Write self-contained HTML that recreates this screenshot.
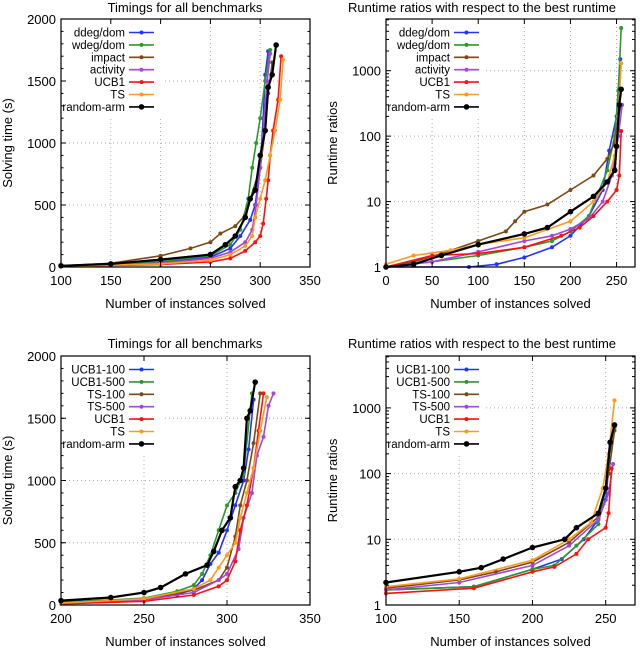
<!DOCTYPE html>
<html><head><meta charset="utf-8"><style>
body{margin:0;background:#fff}
svg{display:block;font-family:"Liberation Sans","DejaVu Sans",sans-serif}
</style></head><body>
<svg id="s" width="640" height="648" viewBox="0 0 640 648" xmlns="http://www.w3.org/2000/svg"></svg>
<script>
// ---- data ----
const colors=['#2233ff','#2a9a2a','#7b4a16','#a445e0','#ff1010','#ff9a1a','#000000'];
const namesTop=['ddeg/dom','wdeg/dom','impact','activity','UCB1','TS','random-arm'];
const namesBot=['UCB1-100','UCB1-500','TS-100','TS-500','UCB1','TS','random-arm'];
const xTicks1=[100,150,200,250,300,350];
const yTicks1=[0,500,1000,1500,2000];
const xTicks2=[0,50,100,150,200,250];
const yTicks2=[1,10,100,1000];
const xTicks3=[200,250,300,350];
const xTicks4=[100,150,200,250];
const p1=[
[[100,10],[150,20],[200,40],[250,80],[270,150],[280,250],[290,380],[295,500],[300,800],[303,1200],[305,1550],[308,1740]],
[[100,10],[200,45],[250,90],[270,180],[280,300],[288,550],[292,800],[296,1000],[300,1200],[305,1500],[310,1750]],
[[100,10],[150,30],[200,90],[230,150],[250,200],[260,270],[275,330],[285,420],[290,550],[300,800],[305,1100],[308,1400],[312,1650]],
[[100,8],[200,30],[250,70],[270,120],[285,200],[292,300],[296,500],[300,800],[304,1200],[307,1500],[310,1720]],
[[100,5],[200,20],[250,40],[270,70],[285,130],[295,200],[300,250],[303,350],[306,550],[308,700],[310,900],[313,1100],[318,1350],[321,1700]],
[[100,5],[200,25],[250,55],[270,100],[285,170],[292,250],[295,400],[300,550],[305,700],[310,900],[315,1100],[320,1350],[323,1670]],
[[100,10],[150,25],[200,60],[250,100],[265,180],[275,250],[285,400],[290,550],[295,620],[300,900],[305,1100],[308,1450],[312,1550],[316,1790]]];
const p2=[
[[0,1],[90,1],[120,1.1],[150,1.4],[180,2],[200,3],[220,6],[235,15],[242,60],[250,200],[254,1500]],
[[0,1],[50,1.2],[100,1.5],[150,2],[180,2.5],[200,3.5],[220,6],[240,30],[248,100],[252,500],[255,4500]],
[[0,1],[30,1.2],[60,1.6],[100,2.5],[130,3.5],[140,5],[150,7],[175,9],[200,15],[225,25],[240,45],[248,80],[252,200],[255,300]],
[[0,1],[50,1.2],[100,1.7],[150,2.5],[180,3],[200,3.8],[220,5.5],[235,10],[245,25],[252,100],[256,300]],
[[0,1],[50,1.5],[100,1.6],[150,2],[190,3],[210,4],[225,6],[240,10],[250,15],[253,25],[255,120]],
[[0,1.1],[30,1.5],[70,1.8],[100,2.2],[150,2.8],[200,5],[225,10],[240,20],[248,50],[252,200],[255,1300]],
[[0,1],[30,1.1],[60,1.5],[100,2.2],[150,3.2],[175,4],[200,7],[225,12],[240,20],[248,30],[250,70],[253,300],[255,520]]];
const p3=[
[[200,25],[250,50],[270,80],[280,130],[285,200],[290,330],[295,420],[300,600],[305,800],[310,1000],[313,1250],[316,1650]],
[[200,20],[250,55],[270,110],[280,160],[285,250],[290,400],[295,600],[300,800],[305,900],[310,1050],[315,1700]],
[[200,15],[250,45],[280,120],[295,200],[300,300],[305,550],[308,800],[312,1000],[316,1300],[320,1700]],
[[200,15],[250,40],[280,100],[295,200],[300,250],[307,450],[310,700],[315,900],[318,1200],[322,1350],[325,1600],[328,1700]],
[[200,10],[250,30],[280,80],[295,150],[300,200],[305,350],[308,600],[312,800],[316,1100],[319,1400],[322,1700]],
[[200,15],[250,50],[280,130],[290,200],[295,300],[300,400],[305,500],[308,700],[312,900],[316,1100],[320,1400],[324,1670]],
[[200,35],[230,60],[250,100],[260,140],[275,250],[288,320],[292,430],[297,600],[302,700],[305,950],[308,1000],[310,1100],[312,1500],[314,1560],[317,1790]]];
const p4=[
[[100,1.7],[160,1.9],[200,3.5],[220,5],[235,10],[245,20],[250,40],[253,200],[256,550]],
[[100,1.7],[160,1.9],[200,3.5],[215,4],[230,8],[245,17],[252,100],[256,500]],
[[100,1.8],[150,2.4],[175,3.2],[200,4.5],[225,9],[245,22],[252,100],[256,450]],
[[100,1.7],[150,2.2],[200,4],[225,8],[245,20],[252,50],[255,140]],
[[100,1.5],[160,1.8],[200,3.2],[215,3.8],[230,6],[238,10],[250,15],[252,25],[254,120]],
[[100,1.9],[150,2.5],[200,4.8],[225,10],[240,18],[248,60],[252,200],[256,1300]],
[[100,2.2],[150,3.2],[165,3.7],[180,5],[200,7.5],[222,10],[230,15],[245,25],[250,60],[253,300],[256,550]]];

const svg=document.getElementById('s');
const NS='http://www.w3.org/2000/svg';
function mk(tag,attrs,parent,txt){const e=document.createElementNS(NS,tag);for(const k in attrs)e.setAttribute(k,attrs[k]);if(txt!==undefined)e.textContent=txt;(parent||svg).appendChild(e);return e;}

function panel(cfg){
  const g=mk('g',{});
  
  
  const {L,R,T,B,x0,x1,log}=cfg;
  const sx=v=>L+(v-x0)/(x1-x0)*(R-L);
  const sy=log?(v=>B-Math.log10(v)/cfg.ldec*(B-T)):(v=>B-(v-cfg.y0)/(cfg.y1-cfg.y0)*(B-T));
  cfg.xt.forEach(v=>{const x=sx(v);if(x>L+1&&x<R-1){const l=mk('line',{x1:x,x2:x,y1:T,y2:B,stroke:'#aaa','stroke-dasharray':'1,3'},g);}});
  cfg.yt.forEach(v=>{const y=sy(v);if(y>T+1&&y<B-1){const l=mk('line',{x1:L,x2:R,y1:y,y2:y,stroke:'#aaa','stroke-dasharray':'1,3'},g);}});
  mk('rect',{x:L+2,y:T+2,width:cfg.legR-L-2,height:96,fill:'#fff'},g);
  cfg.data.forEach((s,i)=>{
    const pts=s.map(p=>sx(p[0]).toFixed(1)+','+sy(p[1]).toFixed(1)).join(' ');
    const pl=mk('polyline',{points:pts,fill:'none',stroke:colors[i],'stroke-width':i==6?2.2:1.6},g);
    
    
    s.forEach(p=>{const m=mk('circle',{cx:sx(p[0]),cy:sy(p[1]),r:i==6?2.8:2,fill:colors[i]},g);
      });
  });
  const f=mk('rect',{x:L,y:T,width:R-L,height:B-T,fill:'none',stroke:'#000','stroke-width':1.2},g);
  
  cfg.xt.forEach(v=>{const x=sx(v);mk('line',{x1:x,x2:x,y1:B,y2:B-5,stroke:'#000'},g);mk('line',{x1:x,x2:x,y1:T,y2:T+5,stroke:'#000'},g);
    const t=mk('text',{x:x,y:B+18,'text-anchor':'middle','font-size':13},g,String(v));});
  cfg.yt.forEach(v=>{const y=sy(v);mk('line',{x1:L,x2:L+5,y1:y,y2:y,stroke:'#000'},g);mk('line',{x1:R,x2:R-5,y1:y,y2:y,stroke:'#000'},g);
    const t=mk('text',{x:L-5,y:y+5,'text-anchor':'end','font-size':13},g,String(v));});
  if(log){for(let d=0;d<4;d++)for(let m=2;m<10;m++){const v=m*Math.pow(10,d);const y=sy(v);if(y<T)continue;
    mk('line',{x1:L,x2:L+3,y1:y,y2:y,stroke:'#000'},g);mk('line',{x1:R,x2:R-3,y1:y,y2:y,stroke:'#000'},g);}}
  else{const step=(cfg.yt[1]-cfg.yt[0])/5;for(let v=cfg.y0;v<=cfg.y1;v+=step){const y=sy(v);mk('line',{x1:L,x2:L+2.5,y1:y,y2:y,stroke:'#000'},g);mk('line',{x1:R,x2:R-2.5,y1:y,y2:y,stroke:'#000'},g);}}
  const tt=mk('text',{x:cfg.tx,y:cfg.ty,'text-anchor':'middle','font-size':13},g,cfg.title);
  const xl=mk('text',{x:(L+R)/2,y:B+41,'text-anchor':'middle','font-size':13},g,'Number of instances solved');
  const yl=mk('text',{x:0,y:0,'text-anchor':'middle','font-size':13,transform:`translate(${cfg.ylx},${(T+B)/2}) rotate(-90)`},g,cfg.ylabel);
  cfg.names.forEach((n,i)=>{const y=T+13.5+i*12.4;
    const lg=mk('g',{},g);
    mk('text',{x:cfg.legT,y:y+4,'text-anchor':'end','font-size':11.5},lg,n);
    mk('line',{x1:cfg.legT+4,x2:cfg.legT+29,y1:y,y2:y,stroke:colors[i],'stroke-width':1.6},lg);
    mk('circle',{cx:cfg.legT+16.5,cy:y,r:i==6?2.8:2,fill:colors[i]},lg);});
}
panel({id:'timings-top',L:61,R:310,T:19,B:267,x0:100,x1:350,y0:0,y1:2000,xt:xTicks1,yt:yTicks1,data:p1,names:namesTop,title:'Timings for all benchmarks',tx:185,ty:12,ylabel:'Solving time (s)',ylx:12,legT:125,legR:163});
panel({id:'ratios-top',L:386,R:635,T:19,B:267,x0:0,x1:270,log:true,ldec:3.79,xt:xTicks2,yt:yTicks2,data:p2,names:namesTop,title:'Runtime ratios with respect to the best runtime',tx:482,ty:12,ylabel:'Runtime ratios',ylx:337,legT:450,legR:484});
panel({id:'timings-bottom',L:61,R:310,T:356,B:605,x0:200,x1:350,y0:0,y1:2000,xt:xTicks3,yt:yTicks1,data:p3,names:namesBot,title:'Timings for all benchmarks',tx:185,ty:348,ylabel:'Solving time (s)',ylx:12,legT:125,legR:163});
panel({id:'ratios-bottom',L:386,R:635,T:356,B:605,x0:100,x1:270,log:true,ldec:3.79,xt:xTicks4,yt:yTicks2,data:p4,names:namesBot,title:'Runtime ratios with respect to the best runtime',tx:482,ty:348,ylabel:'Runtime ratios',ylx:337,legT:450,legR:484});
</script>
</body></html>
